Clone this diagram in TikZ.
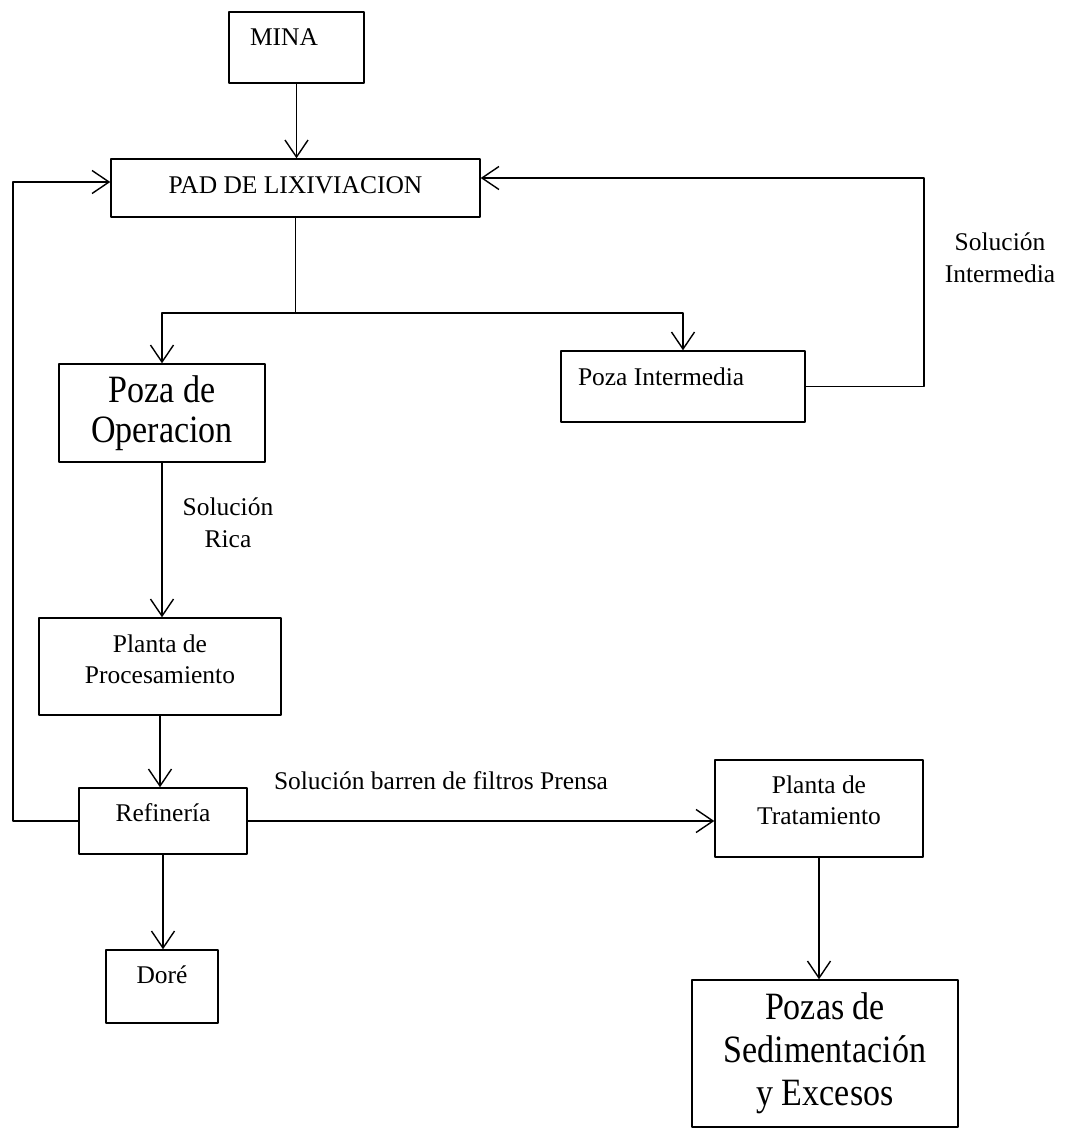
\documentclass[tikz,border=0pt]{standalone}
\usepackage{fontspec}
\setmainfont{Liberation Serif}
\newfontfamily\grande[FakeStretch=0.88]{Liberation Serif}
\usetikzlibrary{arrows.meta,calc}

\begin{document}
\begin{tikzpicture}[line join=round, line width=0.8pt,
  caja/.style={draw, font=\fontsize{14.5}{18}\selectfont, align=center, inner sep=0pt},
  flecha/.style={-{Straight Barb[length=3.4mm,width=4.6mm]}},
  rotulo/.style={font=\fontsize{14.5}{18}\selectfont, align=center}]
\useasboundingbox (0,0) rectangle (21.58,-22.58);
\node[caja, minimum width=2.7cm, minimum height=1.42cm, text width=1.86cm, align=flush left, inner xsep=0.42cm, text height=0.36cm, text depth=0.43cm] (mina) at (5.93,-0.95) {MINA};
\node[caja, minimum width=7.38cm, minimum height=1.16cm, text height=0.36cm, text depth=0.13cm] (pad) at (5.91,-3.76) {PAD DE LIXIVIACION};
\node[caja, minimum width=4.12cm, minimum height=1.96cm, font=\grande\fontsize{22}{23}\selectfont] (pozaop) at (3.24,-8.26) {Poza de\\Operacion};
\node[caja, minimum width=4.88cm, minimum height=1.42cm, text width=4.2cm, align=flush left, inner xsep=0.34cm, text height=0.36cm, text depth=0.39cm] (pozaint) at (13.66,-7.73) {Poza Intermedia};
\node[caja, minimum width=4.84cm, minimum height=1.94cm, text depth=0.3cm] (plantap) at (3.2,-13.33) {Planta de\\Procesamiento};
\node[caja, minimum width=3.36cm, minimum height=1.32cm, text height=0.36cm, text depth=0.33cm] (refi) at (3.26,-16.42) {Refinería};
\node[caja, minimum width=2.24cm, minimum height=1.46cm, text height=0.36cm, text depth=0.47cm] (dore) at (3.24,-19.73) {Doré};
\node[caja, minimum width=4.16cm, minimum height=1.94cm, text depth=0.34cm] (plantat) at (16.38,-16.17) {Planta de\\Tratamiento};
\node[caja, minimum width=5.32cm, minimum height=2.94cm, font=\grande\fontsize{22}{24.5}\selectfont] (pozas) at (16.5,-21.07) {Pozas de\\Sedimentación\\y Excesos};
% rotulos de las soluciones
\node[rotulo] (solint) at (20.0,-5.15) {Solución\\Intermedia};
\node[rotulo] (solrica) at (4.56,-10.45) {Solución\\Rica};
\node[rotulo] (solbarren) at (8.82,-15.62) {Solución barren de filtros Prensa};
\coordinate (split) at (5.91,-6.26);
\coordinate (lloop) at (0.26,-3.64);
\coordinate (rloop) at (18.48,-3.56);
\draw[flecha] (mina.south) -- (mina.south |- pad.north);
\draw (pad.south) -- (split);
\draw[flecha] (split) -| (pozaop.north);
\draw[flecha] (split) -| (pozaint.north);
\draw[flecha] (pozaint.east) -| (rloop) -- (pad.east |- rloop);
\draw[flecha] (pozaop.south) -- (pozaop.south |- plantap.north);
\draw[flecha] (plantap.south) -- (plantap.south |- refi.north);
\draw[flecha] (refi.south) -- (refi.south |- dore.north);
\draw[flecha] (refi.west) -| (lloop) -- (pad.west |- lloop);
\draw[flecha] (refi.east) -- (refi.east -| plantat.west);
\draw[flecha] (plantat.south) -- (plantat.south |- pozas.north);
\end{tikzpicture}
\end{document}
